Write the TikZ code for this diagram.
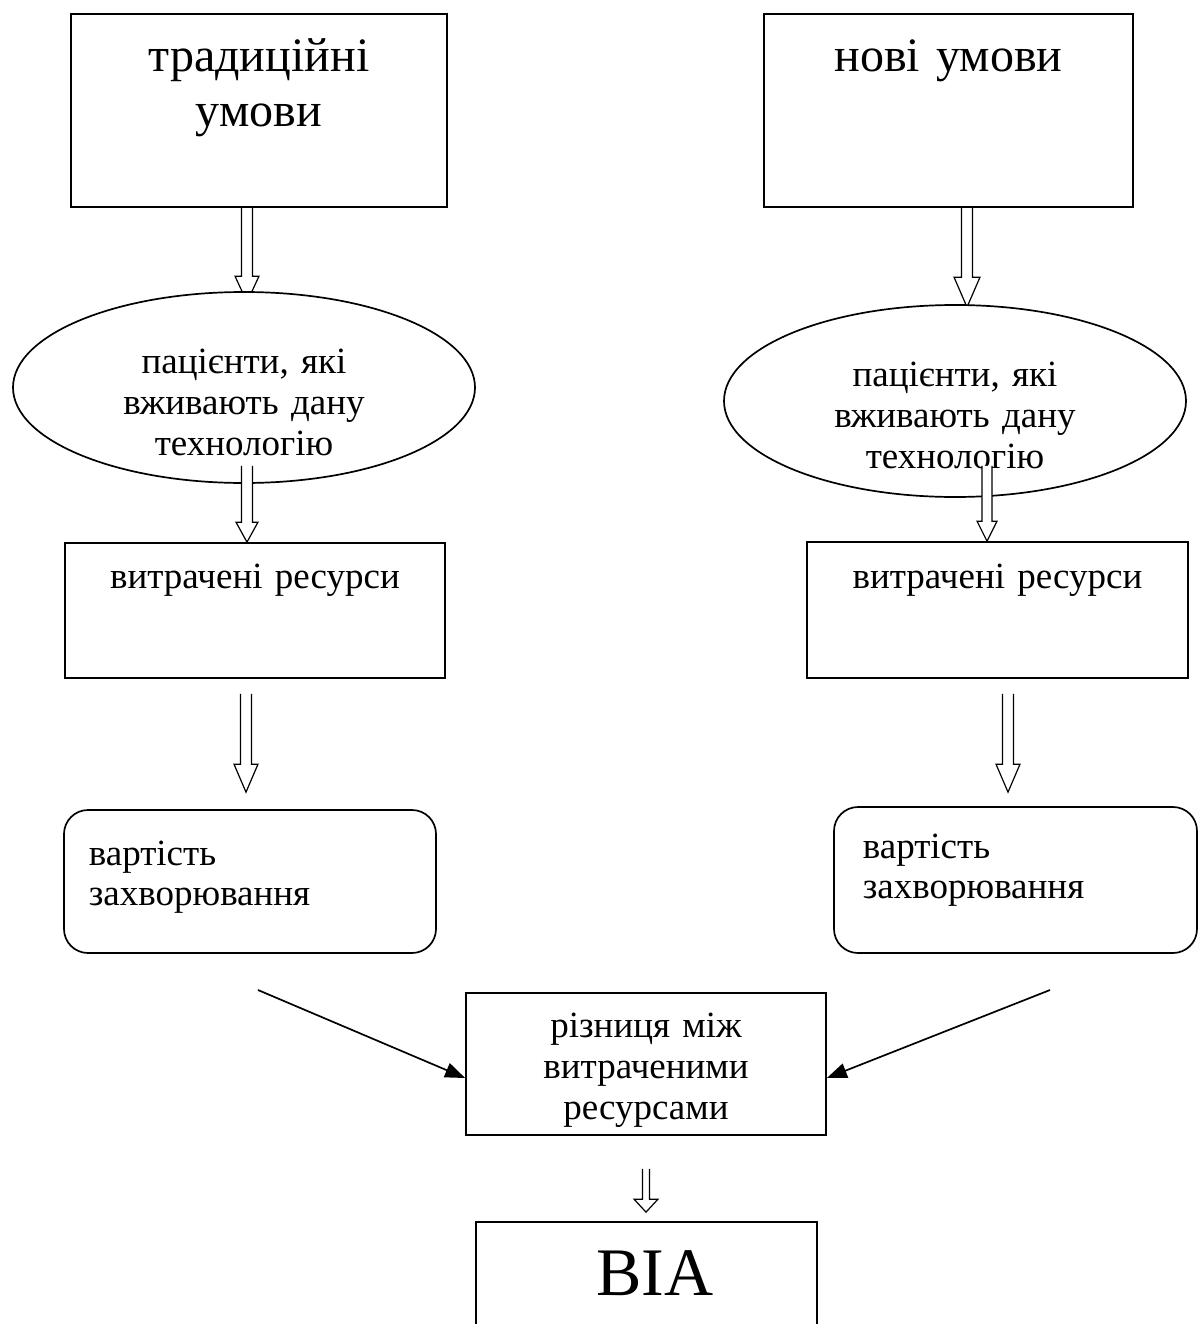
\documentclass[tikz,border=0pt]{standalone}
\usepackage{fontspec}
\setmainfont{Liberation Serif}
\usetikzlibrary{shapes.geometric,arrows.meta,calc,backgrounds}
\begin{document}
\begin{tikzpicture}[x=1pt,y=-1pt,
  line width=1.7pt,
  box/.style={draw, rectangle, inner sep=0pt, fill=white},
  rbox/.style={box, rounded corners=24pt},
  oval/.style={draw, ellipse, inner sep=0pt, fill=white, minimum width=462pt, minimum height=191pt},
  bigtxt/.style={font=\fontsize{48}{55}\selectfont, inner sep=0pt, anchor=base, align=center, text width=370pt},
  txt/.style={font=\fontsize{37}{41}\selectfont, inner sep=0pt, anchor=base, align=center, text width=370pt},
  ltxt/.style={font=\fontsize{37}{40}\selectfont, inner sep=0pt, anchor=base west, align=left, text width=330pt},
  hollow/.style n args={3}{line width=1.2pt, fill=white, to path={let \p1=(\tikztostart), \p2=(\tikztotarget) in
     (\x1-#1,\y1) -- (\x1-#1,\y2+#3) -- (\x1-#2,\y2+#3) -- (\x1,\y2) -- (\x1+#2,\y2+#3) -- (\x1+#1,\y2+#3) -- (\x1+#1,\y1)}},
  line/.style={line width=1.7pt, -{Triangle[length=20pt,width=15pt]}},
]
\path[use as bounding box, clip] (0,0) rectangle (1198,1324);

% boxes
\node[box, minimum width=376pt, minimum height=193pt] (b1) at (259,110.5) {};
\node[box, minimum width=369pt, minimum height=193pt] (b2) at (948.5,110.5) {};
\node[oval] (e1) at (244,387.5) {};
\node[oval, minimum height=192pt] (e2) at (955,401) {};
\node[box, minimum width=380pt, minimum height=135pt] (b3) at (255,610.5) {};
\node[box, minimum width=381pt, minimum height=136pt] (b4) at (997.5,610) {};
\node[rbox, minimum width=372pt, minimum height=143pt] (r5) at (250,881.5) {};
\node[rbox, minimum width=363pt, minimum height=146pt] (r6) at (1015.5,880) {};
\node[box, minimum width=360pt, minimum height=142pt] (b7) at (646,1064) {};
\node[box, minimum width=341pt, minimum height=138pt] (b8) at (646.5,1291) {};

% texts
\node[bigtxt] (t1) at (259,72) {традиційні\\умови};
\node[bigtxt] (t2) at (948.5,72) {нові умови};
\node[txt] (t3) at (244,373) {пацієнти, які\\вживають дану\\технологію};
\node[txt] (t4) at (955,386) {пацієнти, які\\вживають дану\\технологію};
\node[txt] (t5) at (255,588) {витрачені ресурси};
\node[txt] (t6) at (997.5,588) {витрачені ресурси};
\node[ltxt] (t7) at (88,865) {вартість\\захворювання};
\node[ltxt] (t8) at (862,858) {вартість\\захворювання};
\node[txt] (t9) at (646,1037) {різниця між\\витраченими\\ресурсами};
\node[font=\fontsize{68}{70}\selectfont, inner sep=0pt, anchor=base] (t10) at (655,1295) {BIA};

% hollow arrows behind the ellipses
\begin{scope}[on background layer]
\draw[hollow={5.5pt}{12pt}{26pt}] ($(b1.south)+(-12,0)$) to ($(e1.north)+(3,11)$);
\draw[hollow={5.5pt}{13pt}{30pt}] ($(b2.south)+(18.5,0)$) to ($(e2.north)+(12,3)$);
\end{scope}
\draw[hollow={5.5pt}{11pt}{20pt}] ($(e1.south)+(3,-18)$) to (b3.north);
\draw[hollow={5pt}{10pt}{20pt}] ($(e2.south)+(32,-32)$) to (b4.north);
\draw[hollow={5.5pt}{12pt}{28pt}] ($(b3.south)+(-9,15)$) to ($(r5.north)+(-4,-17)$);
\draw[hollow={5.5pt}{12pt}{28pt}] ($(b4.south)+(10.5,15)$) to ($(r6.north)+(-7.5,-14)$);
\draw[hollow={3.5pt}{12pt}{13pt}] ($(b7.south)+(0,33)$) to ($(b8.north)+(0,-9)$);

% line arrows
\coordinate (c1) at (258,990);
\coordinate (c2) at (1050,990);
\draw[line] (c1) -- ($(b7.west)+(0,14)$);
\draw[line] (c2) -- ($(b7.east)+(0,14)$);
\end{tikzpicture}
\end{document}
